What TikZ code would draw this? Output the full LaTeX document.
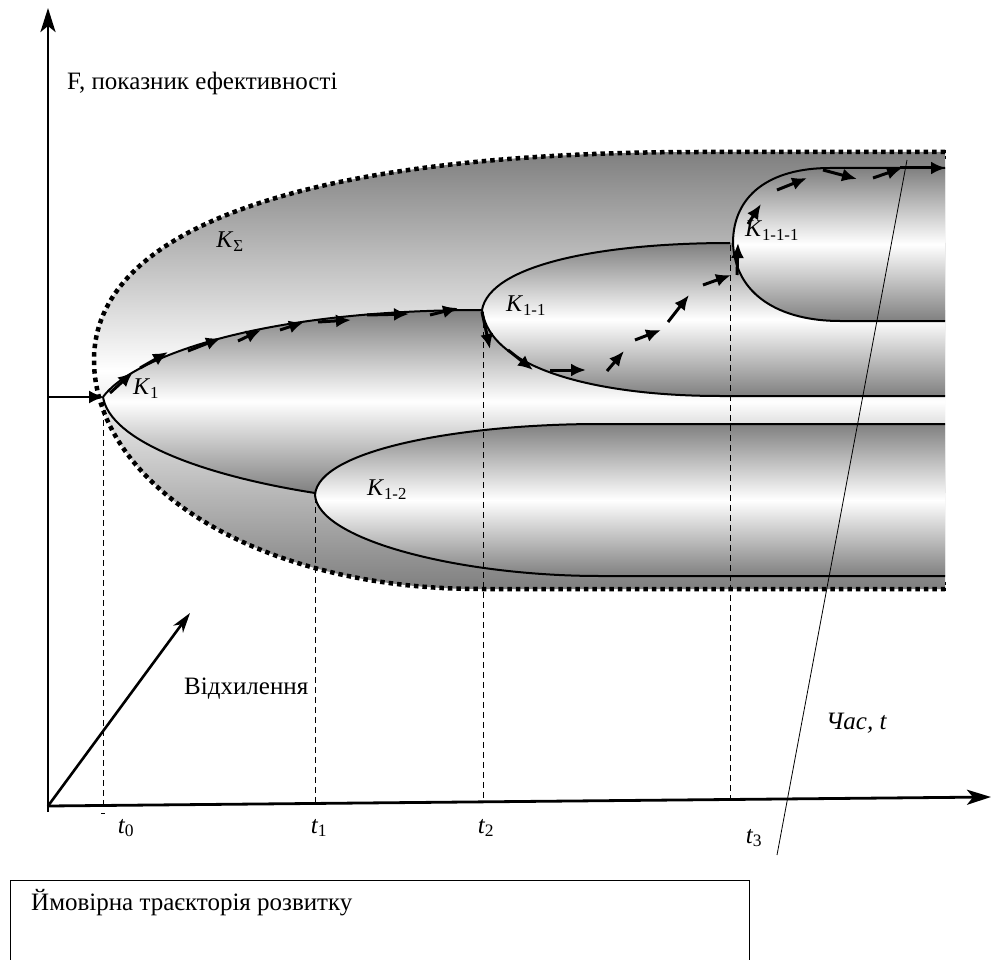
\documentclass[tikz,border=0pt]{standalone}
\usepackage{fontspec}
\setmainfont{Liberation Serif}
\usetikzlibrary{arrows.meta}
\begin{document}
\begin{tikzpicture}[x=1pt,y=-1pt,
  lbl/.style={inner sep=0pt, font=\fontsize{25}{29}\selectfont},
  klbl/.style={inner sep=0pt, font=\fontsize{24}{28}\selectfont},
  bnd/.style={line width=2pt},
  shd/.style={top color=gray, bottom color=gray, middle color=white},
  traj/.style={line width=3pt, -{Latex[length=15pt,width=13pt]}},
  axisarrow/.style={line width=2.8pt, -{Stealth[length=24pt,width=15pt,inset=6pt]}},
  vdash/.style={line width=0.9pt, dash pattern=on 6pt off 4pt},
  dotb/.style={line width=4.5pt, dash pattern=on 4.5pt off 4pt}
]
\useasboundingbox (0,0) rectangle (991,960);

% key points
\coordinate (O) at (48,806);
\coordinate (Ytop) at (48,8);
\coordinate (Ybot) at (48,812);
\coordinate (Xend) at (991,797);
\coordinate (Dend) at (190,613);
\coordinate (Yin) at (48,397);
\coordinate (K1L) at (104,397);

% regions
\shade[shd] (945,152) -- (700,152) .. controls (300,152) and (94,230) .. (94,360) .. controls (94,480) and (250,589) .. (480,589) -- (945,589) -- cycle;
\shade[shd] (103,397) .. controls (130,360) and (250,310) .. (482,310) -- (945,310) -- (945,493) -- (315,493) .. controls (200,475) and (110,440) .. (103,397) -- cycle;
\shade[shd] (315,495) .. controls (318,450) and (460,424) .. (600,424) -- (945,424) -- (945,576) -- (600,576) .. controls (460,576) and (318,540) .. (315,495) -- cycle;
\shade[shd] (482,310) .. controls (490,265) and (600,243) .. (730,243) -- (945,243) -- (945,396) -- (720,396) .. controls (600,396) and (490,370) .. (482,310) -- cycle;
\shade[shd] (733,243) .. controls (733,195) and (770,168) .. (830,168) -- (945,168) -- (945,321) -- (840,321) .. controls (780,321) and (735,295) .. (733,243) -- cycle;

% outlines
\draw[bnd] (103,397) .. controls (130,360) and (250,310) .. (482,310);
\draw[bnd] (103,397) .. controls (110,440) and (200,475) .. (315,493);
\draw[bnd] (945,424) -- (600,424) .. controls (460,424) and (318,450) .. (315,495) .. controls (318,540) and (460,576) .. (600,576) -- (945,576);
\draw[bnd] (730,243) .. controls (600,243) and (490,265) .. (482,310) .. controls (490,370) and (600,396) .. (720,396) -- (945,396);
\draw[bnd] (945,168) -- (830,168) .. controls (770,168) and (733,195) .. (733,243) .. controls (735,295) and (780,321) .. (840,321) -- (945,321);

% outer dotted boundary
\draw[dotb] (945,152) -- (700,152) .. controls (300,152) and (94,230) .. (94,360) .. controls (94,480) and (250,589) .. (480,589) -- (945,589);
\draw[line width=1pt, dash pattern=on 3pt off 3pt] (945,150) -- (945,160) (945,582) -- (945,591);

% dashed verticals
\draw[vdash] (103,400) -- (103,805);
\draw[vdash] (315,497) -- (315,804);
\draw[vdash] (483,312) -- (483,803);
\draw[vdash] (730,245) -- (730,800);
\draw[line width=1pt] (101,813) -- (105,813);

% axes
\draw[line width=2.8pt] (Ybot) -- (O);
\draw[axisarrow] (O) -- (Ytop);
\draw[axisarrow] (O) -- (Xend);
\draw[line width=2.6pt, -{Stealth[length=20pt,width=12pt,inset=6pt]}] (O) -- (Dend);
\draw[line width=2pt, -{Latex[length=15pt,width=13pt]}] (Yin) -- (K1L);

% trajectory
\foreach \ax/\ay/\bx/\by in {
  110/393/133/372, 140/368/168/352, 188/351/221/338, 238/341/261/330,
  280/330/304/322, 318/322/351/320, 367/315/409/314, 430/315/458/308,
  482/312/490/349, 508/350/533/370, 550/370/586/370, 607/371/624/351,
  635/340/661/330, 668/322/689/295, 703/285/731/275, 737/275/738/243,
  748/224/761/204, 777/190/807/178, 823/170/857/179, 873/178/902/168,
  900/168/946/168}
  \draw[traj] (\ax,\ay) -- (\bx,\by);

% time line
\draw[line width=0.8pt] (907,160) -- (777,855);

% legend
\draw[line width=0.8pt] (10,880) rectangle (749,990);
\node[lbl, anchor=west] (leg) at (31,903) {Ймовірна траєкторія розвитку};

% labels
\node[lbl, anchor=west] (ylab) at (67,83) {F, показник ефективності};
\node[lbl, anchor=west] (dlab) at (184,689) {Відхилення};
\node[lbl, anchor=west] (tlab) at (826,723) {\itshape Час, t};
\node[lbl] (t0) at (126,828) {\itshape t\textsubscript{\upshape 0}};
\node[lbl] (t1) at (319,828) {\itshape t\textsubscript{\upshape 1}};
\node[lbl] (t2) at (486,828) {\itshape t\textsubscript{\upshape 2}};
\node[lbl] (t3) at (754,838) {\itshape t\textsubscript{\upshape 3}};

\node[klbl] (kS) at (230,242) {\textit{K}\textsubscript{Σ}};
\node[klbl] (k1) at (146,389) {\textit{K}\textsubscript{1}};
\node[klbl] (k11) at (526,306) {\textit{K}\textsubscript{1-1}};
\node[klbl] (k111) at (772,231) {\textit{K}\textsubscript{1-1-1}};
\node[klbl] (k12) at (387,490) {\textit{K}\textsubscript{1-2}};
\end{tikzpicture}
\end{document}
